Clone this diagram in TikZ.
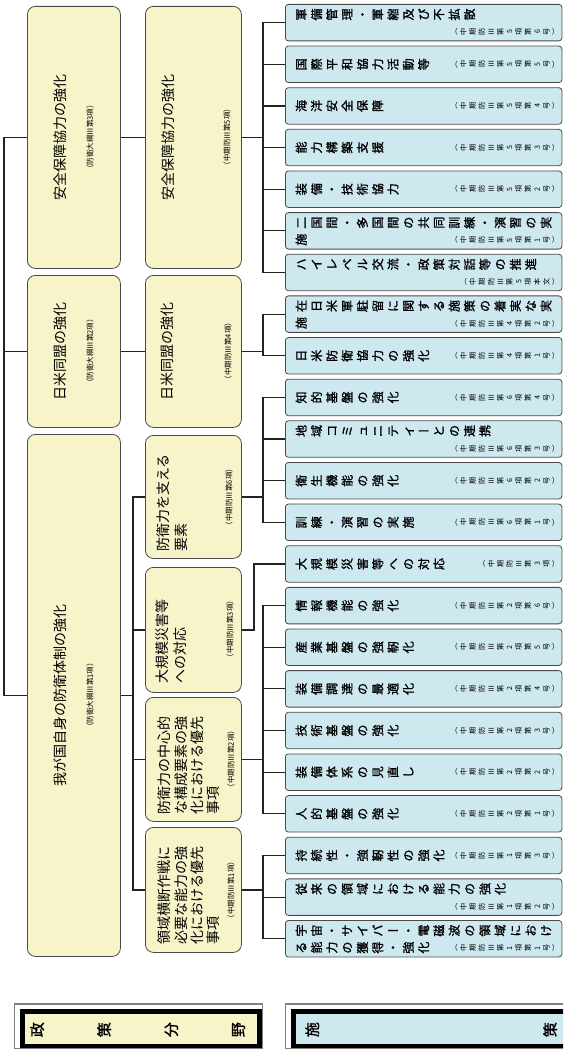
\documentclass[tikz,border=0pt]{standalone}
\usepackage{fontspec}
\setmainfont{Noto Sans CJK JP}
\newfontfamily\cjkheavy[FakeBold=1.2]{Noto Sans CJK JP}
\usepackage{graphicx}
\definecolor{yel}{HTML}{F7F4C9}
\definecolor{blu}{HTML}{CDE8EF}
\definecolor{bordc}{HTML}{4A4A4A}
\definecolor{linec}{HTML}{222222}
\newlength\vtk
\def\vtstopmark{VTSTOP}
\def\vtloop#1{\ifx#1\vtstopmark\else\vtchar{#1}\expandafter\vtloop\fi}
\def\vtchar#1{\ifnum0\if#1（1\fi\if#1）1\fi\if#1ー1\fi>0 \makebox[1em][c]{#1}\else\rotatebox[origin=c]{90}{\makebox[1em][c]{\raisebox{0pt}[0.88em][0.12em]{#1}}}\fi\kern\vtk}
\newcommand\vt[1]{\vtloop#1\vtstopmark}
\newcommand\fbig{\fontsize{14}{16.5}\selectfont}
\newcommand\fsmall{\fontsize{7.5}{9}\selectfont}
\tikzset{
  pbox/.style={draw=bordc, fill=yel, rounded corners=8pt, line width=0.8pt, inner sep=0pt, anchor=north west},
  cbox/.style={draw=bordc, fill=blu, rounded corners=3pt, line width=0.8pt, inner sep=0pt, anchor=north west, minimum width=276.5pt, minimum height=36.5pt},
  conn/.style={line width=1.2pt, draw=linec},
  rot/.style={rotate=90, inner sep=0pt},
  ctext/.style={inner sep=0pt, anchor=west, font=\cjkheavy\fontsize{12}{14}\selectfont\setlength\vtk{3.3pt}},
  rtext/.style={inner sep=0pt, anchor=east, font=\fontsize{7.2}{9}\selectfont\setlength\vtk{2pt}},
}
\newcommand\cboxS[4]{%
  \pgfmathsetmacro\ctop{4+(#2-1)*41.64}
  \node[cbox] (#1) at (285,\ctop) {};
  \node[ctext] (#1t) at ([xshift=10pt]#1.west) {\vt{#3}};
  \node[rtext] (#1r) at ([xshift=-1pt]#1.east) {\vt{#4}};
}
\newcommand\cboxT[4]{%
  \pgfmathsetmacro\ctop{4+(#2-1)*41.64}
  \node[cbox] (#1) at (285,\ctop) {};
  \node[ctext] (#1t) at ([xshift=10pt,yshift=-10.5pt]#1.north west) {\vt{#3}};
  \node[rtext] (#1r) at ([xshift=-1pt,yshift=-28pt]#1.north east) {\vt{#4}};
}
\newcommand\cboxD[5]{%
  \pgfmathsetmacro\ctop{4+(#2-1)*41.64}
  \node[cbox] (#1) at (285,\ctop) {};
  \node[ctext] (#1t) at ([xshift=10pt,yshift=-10.5pt]#1.north west) {\vt{#3}};
  \node[ctext] (#1u) at ([xshift=10pt,yshift=-27.5pt]#1.north west) {\vt{#4}};
  \node[rtext] (#1r) at ([xshift=-1pt,yshift=-28pt]#1.north east) {\vt{#5}};
}
\begin{document}
\begin{tikzpicture}[x=1pt,y=-1pt]
\useasboundingbox (0,0) rectangle (563,1049);
\clip (0,0) rectangle (563,1049);
% column 1
\node[pbox, minimum width=93pt, minimum height=262pt] (p1) at (27,6) {};
\node[pbox, minimum width=93pt, minimum height=152pt] (p2) at (27,275) {};
\node[pbox, minimum width=93pt, minimum height=522pt] (p3) at (27,434) {};
\node[rot, font=\fbig] (p1t) at (60,137) {安全保障協力の強化};
\node[rot, font=\fsmall] (p1r) at (90,137) {（防衛大綱Ⅲ第3項）};
\node[rot, font=\fbig] (p2t) at (60,351) {日米同盟の強化};
\node[rot, font=\fsmall] (p2r) at (90,351) {（防衛大綱Ⅲ第2項）};
\node[rot, font=\fbig] (p3t) at (60,695) {我が国自身の防衛体制の強化};
\node[rot, font=\fsmall] (p3r) at (90,695) {（防衛大綱Ⅲ第1項）};
% column 2
\node[pbox, minimum width=96pt, minimum height=262pt] (m1) at (145,6) {};
\node[pbox, minimum width=96pt, minimum height=152pt] (m2) at (145,275) {};
\node[pbox, minimum width=96pt, minimum height=123pt] (m3) at (145,435) {};
\node[pbox, minimum width=96pt, minimum height=125pt] (m4) at (145,567) {};
\node[pbox, minimum width=96pt, minimum height=124pt] (m5) at (145,697) {};
\node[pbox, minimum width=96pt, minimum height=125pt] (m6) at (145,827) {};
\node[rot, font=\fbig] (m1t) at (168,137) {安全保障協力の強化};
\node[rot, font=\fsmall] (m1r) at (227,137) {（中期防Ⅲ第5項）};
\node[rot, font=\fbig] (m2t) at (167,351) {日米同盟の強化};
\node[rot, font=\fsmall] (m2r) at (228,351) {（中期防Ⅲ第4項）};
\node[rot, font=\fbig, anchor=west] (m3a) at (163,552) {防衛力を支える};
\node[rot, font=\fbig, anchor=west] (m3b) at (181,552) {要素};
\node[rot, font=\fsmall] (m3r) at (229,497) {（中期防Ⅲ第6項）};
\node[rot, font=\fbig, anchor=west] (m4a) at (162,684) {大規模災害等};
\node[rot, font=\fbig, anchor=west] (m4b) at (180,684) {への対応};
\node[rot, font=\fsmall] (m4r) at (230,629) {（中期防Ⅲ第3項）};
\node[rot, font=\fbig, anchor=west] (m5a) at (164,815) {防衛力の中心的};
\node[rot, font=\fbig, anchor=west] (m5b) at (181,815) {な構成要素の強};
\node[rot, font=\fbig, anchor=west] (m5c) at (197.5,815) {化における優先};
\node[rot, font=\fbig, anchor=west] (m5d) at (213.5,815) {事項};
\node[rot, font=\fsmall] (m5r) at (231,759) {（中期防Ⅲ第2項）};
\node[rot, font=\fbig, anchor=west] (m6a) at (164,945) {領域横断作戦に};
\node[rot, font=\fbig, anchor=west] (m6b) at (181,945) {必要な能力の強};
\node[rot, font=\fbig, anchor=west] (m6c) at (197.5,945) {化における優先};
\node[rot, font=\fbig, anchor=west] (m6d) at (213.5,945) {事項};
\node[rot, font=\fsmall] (m6r) at (231,890) {（中期防Ⅲ第1項）};
% column 3
\cboxT{c1}{1}{軍備管理・軍縮及び不拡散}{（中期防Ⅲ第5項第6号）}
\cboxS{c2}{2}{国際平和協力活動等}{（中期防Ⅲ第5項第5号）}
\cboxS{c3}{3}{海洋安全保障}{（中期防Ⅲ第5項第4号）}
\cboxS{c4}{4}{能力構築支援}{（中期防Ⅲ第5項第3号）}
\cboxS{c5}{5}{装備・技術協力}{（中期防Ⅲ第5項第2号）}
\cboxD{c6}{6}{二国間・多国間の共同訓練・演習の実}{施}{（中期防Ⅲ第5項第1号）}
\cboxT{c7}{7}{ハイレベル交流・政策対話等の推進}{（中期防Ⅲ第5項本文）}
\cboxD{c8}{8}{在日米軍駐留に関する施策の着実な実}{施}{（中期防Ⅲ第4項第2号）}
\cboxS{c9}{9}{日米防衛協力の強化}{（中期防Ⅲ第4項第1号）}
\cboxS{c10}{10}{知的基盤の強化}{（中期防Ⅲ第6項第4号）}
\cboxT{c11}{11}{地域コミュニティーとの連携}{（中期防Ⅲ第6項第3号）}
\cboxS{c12}{12}{衛生機能の強化}{（中期防Ⅲ第6項第2号）}
\cboxS{c13}{13}{訓練・演習の実施}{（中期防Ⅲ第6項第1号）}
\cboxS{c14}{14}{大規模災害等への対応}{（中期防Ⅲ第3項）}
\cboxS{c15}{15}{情報機能の強化}{（中期防Ⅲ第2項第6号）}
\cboxS{c16}{16}{産業基盤の強靭化}{（中期防Ⅲ第2項第5号）}
\cboxS{c17}{17}{装備調達の最適化}{（中期防Ⅲ第2項第4号）}
\cboxS{c18}{18}{技術基盤の強化}{（中期防Ⅲ第2項第3号）}
\cboxS{c19}{19}{装備体系の見直し}{（中期防Ⅲ第2項第2号）}
\cboxS{c20}{20}{人的基盤の強化}{（中期防Ⅲ第2項第1号）}
\cboxS{c21}{21}{持続性・強靭性の強化}{（中期防Ⅲ第1項第3号）}
\cboxT{c22}{22}{従来の領域における能力の強化}{（中期防Ⅲ第1項第2号）}
\cboxD{c23}{23}{宇宙・サイバー・電磁波の領域におけ}{る能力の獲得・強化}{（中期防Ⅲ第1項第1号）}
% bracket coordinates
\coordinate (lx) at (4,0);
\coordinate (mx) at (133,0);
\coordinate (bx) at (263,0);
\coordinate (bx2) at (254,0);
% connectors col1
\draw[conn] (p1.west) -- (p1.west -| lx) -- (p3.west -| lx) -- (p3.west);
\draw[conn] (p2.west) -- (p2.west -| lx);
\draw[conn] (p1.east) -- (m1.west);
\draw[conn] (p2.east) -- (m2.west);
\draw[conn] (p3.east) -- (p3.east -| mx);
\draw[conn] (m3.west) -- (m3.west -| mx) -- (m6.west -| mx) -- (m6.west);
\draw[conn] (m4.west) -- (m4.west -| mx);
\draw[conn] (m5.west) -- (m5.west -| mx);
% connectors col2 -> col3
\draw[conn] (m1.east) -- (m1.east -| bx);
\draw[conn] (c1.west) -- (c1.west -| bx) -- (c7.west -| bx) -- (c7.west);
\foreach \i in {2,...,6} \draw[conn] (c\i.west) -- (c\i.west -| bx);
\draw[conn] (m2.east) -- (m2.east -| bx);
\draw[conn] (c8.west) -- (c8.west -| bx) -- (c9.west -| bx) -- (c9.west);
\draw[conn] (m3.east) -- (m3.east -| bx);
\draw[conn] (c10.west) -- (c10.west -| bx) -- (c13.west -| bx) -- (c13.west);
\foreach \i in {11,12} \draw[conn] (c\i.west) -- (c\i.west -| bx);
\draw[conn] (m4.east) -- (m4.east -| bx2) |- (c14.west);
\draw[conn] (m5.east) -- (m5.east -| bx);
\draw[conn] (c15.west) -- (c15.west -| bx) -- (c20.west -| bx) -- (c20.west);
\foreach \i in {16,...,19} \draw[conn] (c\i.west) -- (c\i.west -| bx);
\draw[conn] (m6.east) -- (m6.east -| bx);
\draw[conn] (c21.west) -- (c21.west -| bx) -- (c23.west -| bx) -- (c23.west);
\draw[conn] (c22.west) -- (c22.west -| bx);
% headers
\draw[gray, line width=1.5pt] (14.5,1004) rectangle (262.5,1048.3);
\node[draw=black, line width=4.5pt, fill=yel, anchor=north west, minimum width=237pt, minimum height=34.2pt, inner sep=0pt] (h1) at (20,1009.3) {};
\node[anchor=west, inner sep=0pt, font=\cjkheavy\fontsize{15}{15}\selectfont\setlength\vtk{52pt}] (h1t) at ([xshift=9.5pt,yshift=-1pt]h1.west) {\vt{政策分野}};
\draw[gray, line width=1.5pt] (285.5,1004) rectangle (580,1048.3);
\node[draw=black, line width=4.5pt, fill=blu, anchor=north west, minimum width=280pt, minimum height=34.2pt, inner sep=0pt] (h2) at (291,1009.3) {};
\node[anchor=west, inner sep=0pt, font=\cjkheavy\fontsize{15}{15}\selectfont\setlength\vtk{223pt}] (h2t) at ([xshift=13.5pt,yshift=-1pt]h2.west) {\vt{施策}};
\end{tikzpicture}
\end{document}
